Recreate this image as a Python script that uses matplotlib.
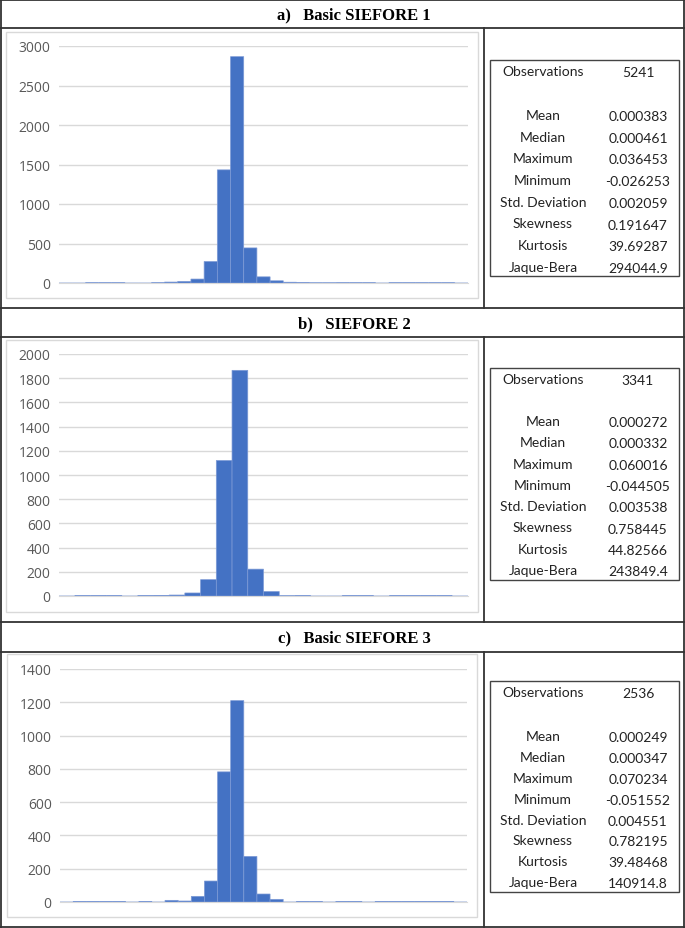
import matplotlib
matplotlib.use("Agg")
import matplotlib.pyplot as plt
from matplotlib.lines import Line2D
from matplotlib.patches import Rectangle

W, H = 685, 929

# histogram counts (one entry per Excel category, left to right)
counts_a = [0, 0, 2, 2, 2, 0, 0, 2, 12, 20, 50, 272, 1432, 2865, 444, 78, 28, 10,
            3, 1, 1, 2, 2, 2, 0, 2, 2, 2, 2, 2, 0]
counts_b = [0, 2, 2, 2, 0, 2, 3, 8, 25, 135, 1120, 1865, 222, 37, 1, 2, 0, 0,
            2, 2, 0, 2, 2, 2, 2, 0]
counts_c = [0, 2, 2, 2, 2, 0, 2, 0, 10, 6, 34, 126, 782, 1210, 274, 48, 16, 0,
            2, 2, 0, 2, 2, 0, 2, 2, 2, 2, 2, 2, 0]

yticks_a = [0, 500, 1000, 1500, 2000, 2500, 3000]
yticks_b = [0, 200, 400, 600, 800, 1000, 1200, 1400, 1600, 1800, 2000]
yticks_c = [0, 200, 400, 600, 800, 1000, 1200, 1400]

titles = ["a)   Basic SIEFORE 1", "b)   SIEFORE 2", "c)   Basic SIEFORE 3"]

stat_labels = ["Mean", "Median", "Maximum", "Minimum", "Std. Deviation",
               "Skewness", "Kurtosis", "Jaque-Bera"]
obs = ["5241", "3341", "2536"]
stats_a = ["0.000383", "0.000461", "0.036453", "-0.026253", "0.002059",
           "0.191647", "39.69287", "294044.9"]
stats_b = ["0.000272", "0.000332", "0.060016", "-0.044505", "0.003538",
           "0.758445", "44.82566", "243849.4"]
stats_c = ["0.000249", "0.000347", "0.070234", "-0.051552", "0.004551",
           "0.782195", "39.48468", "140914.8"]

fig = plt.figure(figsize=(W / 100, H / 100), dpi=100)


def fx(x):
    return x / W


def fy(y):
    return 1 - y / H


def hline(y, x0=0, x1=684, lw=1.3, c="#333333"):
    fig.add_artist(Line2D([fx(x0), fx(x1)], [fy(y), fy(y)], lw=lw, color=c,
                          transform=fig.transFigure))


def vline(x, y0, y1, lw=1.3, c="#333333"):
    fig.add_artist(Line2D([fx(x), fx(x)], [fy(y0), fy(y1)], lw=lw, color=c,
                          transform=fig.transFigure))


def rect(x0, y0, x1, y1, ec, lw=1.0):
    fig.add_artist(Rectangle((fx(x0), fy(y1)), fx(x1 - x0), (y1 - y0) / H,
                             fill=False, ec=ec, lw=lw, transform=fig.transFigure))


# table frame
for y in [0.7, 29, 309, 338, 623, 653, 928]:
    hline(y)
vline(0.8, 0, 929)
vline(684, 0, 929)
vline(484, 29, 309)
vline(484, 338, 623)
vline(484, 653, 928)

# panels: (title y, chart box, plot area, counts, ticks, stats, table top/bottom, obs y, mean y, row pitch)
panels = [
    (15, (6, 33, 478, 299), (59, 47, 468, 284), counts_a, yticks_a, stats_a, 61, 277, 72, 116, 21.7),
    (324, (6, 341, 478, 613), (59, 355, 468, 597), counts_b, yticks_b, stats_b, 369, 581, 380, 422, 21.3),
    (638, (7, 655, 477, 918), (60, 670, 467, 903), counts_c, yticks_c, stats_c, 682, 893, 693, 737, 20.9),
]

for i, (ty, box, pa, counts, ticks, stats, tt, tb, oy, my, pitch) in enumerate(panels):
    fig.text(fx(354), fy(ty), titles[i], ha="center", va="center",
             fontsize=12, fontweight="bold", family="Liberation Serif")
    rect(*box, ec="#d9d9d9", lw=1.0)

    x0, y0, x1, y1 = pa
    ax = fig.add_axes([fx(x0), fy(y1), fx(x1 - x0), (y1 - y0) / H])
    n = len(counts)
    bars = ax.bar(range(n), counts, width=1.0, color="#4472c4", edgecolor="#7d9ad6",
                  linewidth=0.5, zorder=3)
    for b in bars:
        b.set_snap(False)
    ax.set_xlim(-0.5, n - 0.5)
    ax.set_ylim(0, ticks[-1])
    ax.set_yticks(ticks)
    ax.set_xticks([])
    ax.grid(axis="y", color="#d9d9d9", lw=1.0, zorder=0)
    for s in ["left", "right", "top"]:
        ax.spines[s].set_visible(False)
    ax.spines["bottom"].set_color("#d9d9d9")
    ax.spines["bottom"].set_zorder(1)
    ax.tick_params(axis="y", length=0, pad=6, labelsize=10, labelcolor="#595959")
    for lab in ax.get_yticklabels():
        lab.set_family("Open Sans")

    # stats table
    rect(490, tt, 679, tb, ec="#444444", lw=1.0)
    fig.text(fx(543), fy(oy), "Observations", ha="center", va="center",
             fontsize=10, family="Lato", color="#222222")
    fig.text(fx(638), fy(oy + 1), obs[i], ha="center", va="center",
             fontsize=10, family="Lato", color="#222222")
    for k, (lab, val) in enumerate(zip(stat_labels, stats)):
        y = my + k * pitch
        fig.text(fx(543), fy(y), lab, ha="center", va="center",
                 fontsize=10, family="Lato", color="#222222")
        fig.text(fx(638), fy(y + 1), val, ha="center", va="center",
                 fontsize=10, family="Lato", color="#222222")

fig.savefig("out.png", dpi=100)
